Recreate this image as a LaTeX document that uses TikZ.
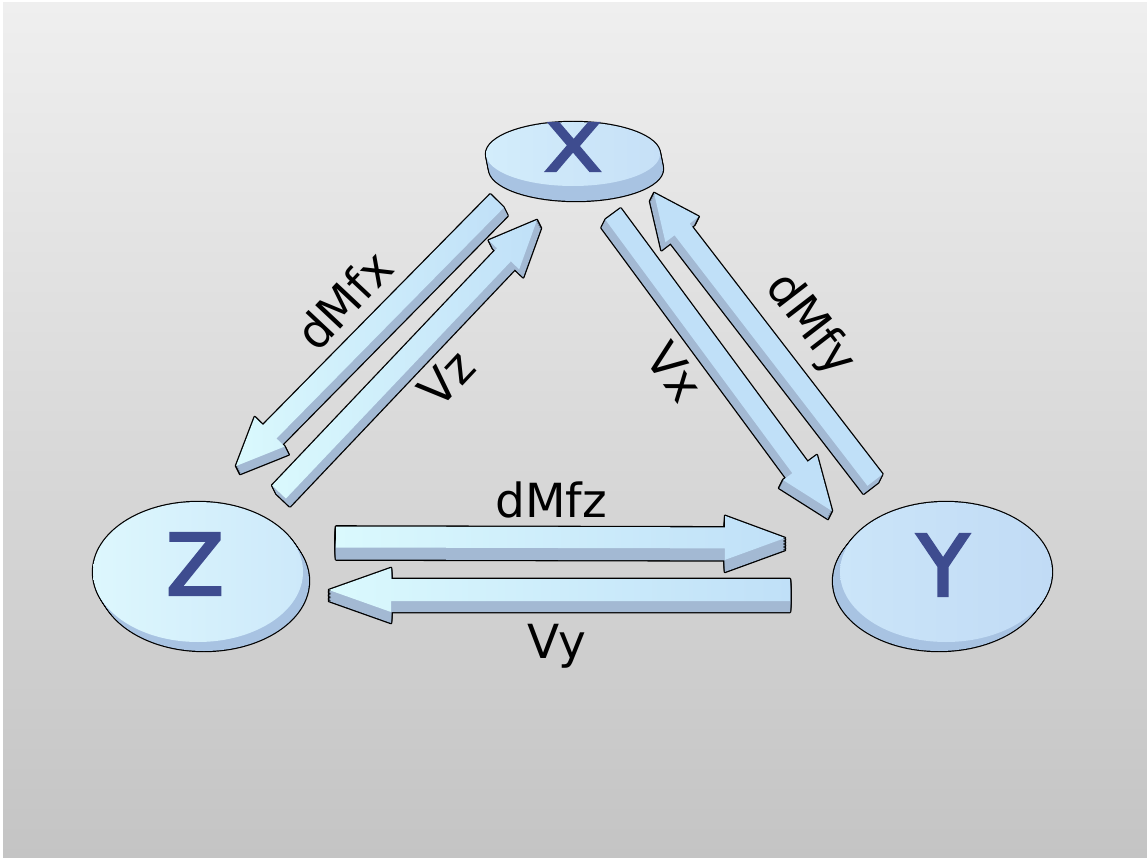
\documentclass[tikz,border=0pt]{standalone}
\usepackage{fontspec}
\setmainfont{DejaVu Sans}
\newfontfamily\discletterfont{DejaVu Sans}[FakeBold=3.5]
\usetikzlibrary{calc,shapes.geometric}
\definecolor{bgtop}{HTML}{EFEFEF}
\definecolor{bgbot}{HTML}{C4C4C4}
\definecolor{arrlight}{HTML}{DAF9FD}
\definecolor{arrblue}{HTML}{C0E0F8}
\definecolor{arrsidecol}{HTML}{A3B9D3}
\definecolor{discZa}{HTML}{DDF7FD}
\definecolor{discZb}{HTML}{CDE9FA}
\definecolor{discYa}{HTML}{CBE5F9}
\definecolor{discYb}{HTML}{C1DBF5}
\definecolor{discXa}{HTML}{D3EDFB}
\definecolor{discXb}{HTML}{C6E0F7}
\definecolor{discsidecol}{HTML}{A8C3E2}
\definecolor{lettercol}{HTML}{3E4C8F}
\tikzset{
  arrline/.style={draw=black, line width=2.6pt, line join=round},
  arrside/.style={fill=arrsidecol},
  discline/.style={draw=black, line width=2.4pt},
  discside/.style={fill=discsidecol},
  lbl/.style={font=\fontsize{47}{50}\selectfont, text=black, inner sep=0pt},
  letter/.style={font=\fontsize{84}{84}\discletterfont, text=lettercol, inner sep=0pt},
}
% #1 name, #2 tail, #3 tip, #4 head length, #5 dx, #6 dy, #7 top face style, #8 shaft half width, #9 head half width
\newcommand\fatarrow[9]{%
  \coordinate (#1-1) at ($(#2)!#8!90:(#3)$);
  \coordinate (#1-2) at ($(#2)!#8!-90:(#3)$);
  \coordinate (#1-3) at ($(#3)!#4!(#2)!#8!90:(#2)$);
  \coordinate (#1-4) at ($(#3)!#4!(#2)!#9!90:(#2)$);
  \coordinate (#1-5) at (#3);
  \coordinate (#1-6) at ($(#3)!#4!(#2)!#9!-90:(#2)$);
  \coordinate (#1-7) at ($(#3)!#4!(#2)!#8!-90:(#2)$);
  \foreach \t in {0,0.125,...,1.01}{%
    \draw[arrline, transform canvas={shift={({\t*(#5)},{\t*(#6)})}}]
      (#1-1)--(#1-2)--(#1-3)--(#1-4)--(#1-5)--(#1-6)--(#1-7)--cycle;}
  \foreach \t in {1,0.875,...,0.1}{%
    \fill[arrside, transform canvas={shift={({\t*(#5)},{\t*(#6)})}}]
      (#1-1)--(#1-2)--(#1-3)--(#1-4)--(#1-5)--(#1-6)--(#1-7)--cycle;}
  \path[#7]
      (#1-1)--(#1-2)--(#1-3)--(#1-4)--(#1-5)--(#1-6)--(#1-7)--cycle;
}
\begin{document}
\begin{tikzpicture}[x=1pt, y=-1pt]
\useasboundingbox (0,0) rectangle (1147,858);
\fill[white] (0,0) rectangle (1147,858);
\shade[top color=bgtop, bottom color=bgbot] (3,3) rectangle (1147,858);

% arrow end points
\coordinate (dMfxT) at (497,201);  \coordinate (dMfxH) at (236,466);
\coordinate (VzT)   at (279,492);  \coordinate (VzH)   at (537,220);
\coordinate (VxT)   at (613,214);  \coordinate (VxH)   at (832,511);
\coordinate (dMfyT) at (875,480);  \coordinate (dMfyH) at (654,193);
\coordinate (dMfzT) at (336,537);  \coordinate (dMfzH) at (785,538);
\coordinate (VyT)   at (790,590);  \coordinate (VyH)   at (329,590);

\fatarrow{a1}{dMfxT}{dMfxH}{48pt}{4}{8}{shade, left color=arrlight, right color=arrblue}{9.5pt}{21pt}
\fatarrow{a2}{VzT}{VzH}{48pt}{4}{8}{shade, left color=arrlight, right color=arrblue}{9.5pt}{21pt}
\fatarrow{a3}{VxT}{VxH}{54pt}{-4}{8}{fill=arrblue}{9.5pt}{21pt}
\fatarrow{a4}{dMfyT}{dMfyH}{46pt}{-4}{8}{fill=arrblue}{9.5pt}{21pt}
\fatarrow{a5}{dMfzT}{dMfzH}{60pt}{0}{12}{shade, left color=arrlight, right color=arrblue}{10.5pt}{22pt}
\fatarrow{a6}{VyT}{VyH}{62pt}{0}{11}{shade, left color=arrlight, right color=arrblue}{11pt}{22pt}

% discs
\coordinate (xc) at (573,154);
\coordinate (zc) at (198,572);
\coordinate (yc) at (946,572);
\foreach \t in {0,0.125,...,1.01}{
  \draw[discline] ($(xc)+({\t*3},{\t*15})$) ellipse [x radius=87pt, y radius=32pt];
  \draw[discline] ($(zc)+({\t*6},{\t*9})$) ellipse [x radius=105pt, y radius=70pt];
  \draw[discline] ($(yc)+({\t*(-7)},{\t*9})$) ellipse [x radius=106pt, y radius=70pt];
}
\foreach \t in {1,0.875,...,0.1}{
  \fill[discside] ($(xc)+({\t*3},{\t*15})$) ellipse [x radius=87pt, y radius=32pt];
  \fill[discside] ($(zc)+({\t*6},{\t*9})$) ellipse [x radius=105pt, y radius=70pt];
  \fill[discside] ($(yc)+({\t*(-7)},{\t*9})$) ellipse [x radius=106pt, y radius=70pt];
}
\node[ellipse, inner sep=0pt, minimum width=174pt, minimum height=64pt,
      left color=discXa, right color=discXb] (X) at (xc) {};
\node[ellipse, inner sep=0pt, minimum width=210pt, minimum height=140pt,
      left color=discZa, right color=discZb] (Z) at (zc) {};
\node[ellipse, inner sep=0pt, minimum width=212pt, minimum height=140pt,
      left color=discYa, right color=discYb] (Y) at (yc) {};

% letters
\node[letter] (Xl) at (573,147) {\scalebox{1}[0.78]{X}};
\node[letter] (Zl) at (195,564) {Z};
\node[letter] (Yl) at (943,565) {Y};

% labels
\node[lbl, anchor=base] (ldMfz) at (551,517) {dMfz};
\node[lbl, anchor=base] (lVy) at (557,658) {Vy};
\node[lbl, rotate=46.8] (ldMfx) at (344,300) {dMfx};
\node[lbl, rotate=46.8] (lVz) at (446,378) {Vz};
\node[lbl, rotate=-53.6] (lVx) at (675,372) {Vx};
\node[lbl, rotate=-52.4] (ldMfy) at (810,325) {dMfy};
\end{tikzpicture}
\end{document}
